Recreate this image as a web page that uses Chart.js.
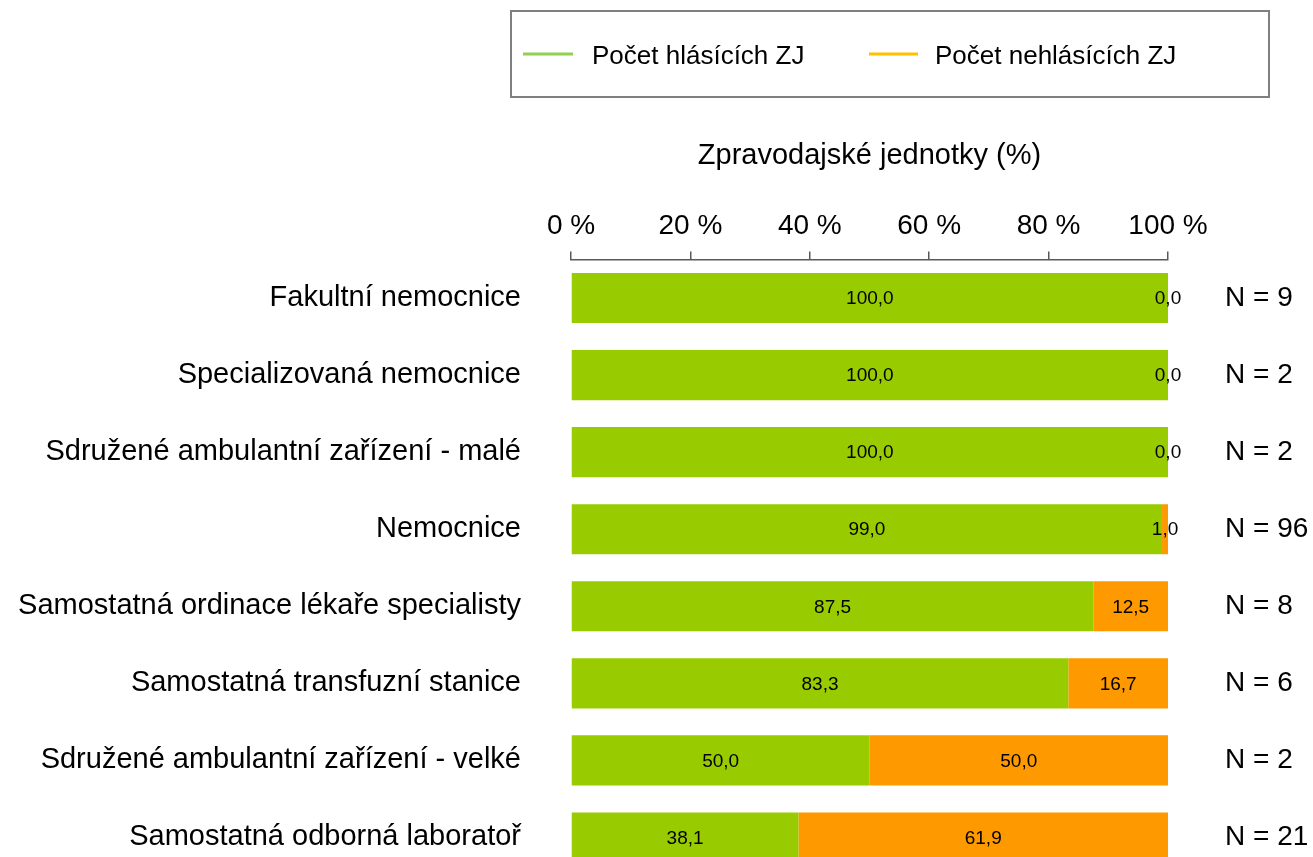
<!DOCTYPE html>
<html>
<head>
<meta charset="utf-8">
<script src="https://cdn.jsdelivr.net/npm/chart.js@4"></script>
<style>
  html, body { margin: 0; padding: 0; background: #fff; overflow: hidden; }
  #wrap { position: relative; width: 1313px; height: 876px; }
</style>
</head>
<body>
<div id="wrap"><canvas id="c"></canvas></div>
<script>
const categories = [
  'Fakultní nemocnice',
  'Specializovaná nemocnice',
  'Sdružené ambulantní zařízení - malé',
  'Nemocnice',
  'Samostatná ordinace lékaře specialisty',
  'Samostatná transfuzní stanice',
  'Sdružené ambulantní zařízení - velké',
  'Samostatná odborná laboratoř'
];
const reporting = [100.0, 100.0, 100.0, 99.0, 87.5, 83.3, 50.0, 38.1];
const nonReporting = [0.0, 0.0, 0.0, 1.0, 12.5, 16.7, 50.0, 61.9];
const nCounts = [9, 2, 2, 96, 8, 6, 2, 21];
const seriesNames = ['Počet hlásících ZJ', 'Počet nehlásících ZJ'];
const barColors = ['#99CC00', '#FF9900'];
const legendLineColors = ['#92D050', '#FFC000'];
const axisTitle = 'Zpravodajské jednotky (%)';
const xTickValues = [0, 20, 40, 60, 80, 100];

const FONT = "'Liberation Sans', Arial, sans-serif";
const nLabels = nCounts.map(n => 'N = ' + n);

function zeroPad(scale) {
  scale.paddingTop = 0;
  scale.paddingBottom = 0;
}

const valueLabels = {
  id: 'valueLabels',
  afterDatasetsDraw(chart) {
    const ctx = chart.ctx;
    ctx.save();
    ctx.font = '19px ' + FONT;
    ctx.fillStyle = '#000';
    ctx.textAlign = 'center';
    ctx.textBaseline = 'middle';
    chart.data.datasets.forEach((ds, di) => {
      const meta = chart.getDatasetMeta(di);
      meta.data.forEach((el, i) => {
        const v = ds.data[i];
        const cx = (el.x + el.base) / 2;
        ctx.fillText(v.toFixed(1).replace('.', ','), cx, el.y + 1);
      });
    });
    ctx.restore();
  }
};

const boxedLegend = {
  id: 'boxedLegend',
  afterDraw(chart) {
    const ctx = chart.ctx;
    ctx.save();
    ctx.strokeStyle = '#7f7f7f';
    ctx.lineWidth = 2;
    ctx.strokeRect(511, 11, 758, 86);
    const items = [
      { x0: 523, x1: 573, tx: 592 },
      { x0: 869, x1: 918, tx: 935 }
    ];
    ctx.font = '26px ' + FONT;
    ctx.textBaseline = 'middle';
    ctx.textAlign = 'left';
    chart.data.datasets.forEach((ds, i) => {
      const it = items[i];
      ctx.strokeStyle = legendLineColors[i];
      ctx.lineWidth = 3;
      ctx.beginPath();
      ctx.moveTo(it.x0, 54);
      ctx.lineTo(it.x1, 54);
      ctx.stroke();
      ctx.fillStyle = '#000';
      ctx.fillText(ds.label, it.tx, 57);
    });
    ctx.restore();
  }
};

new Chart(document.getElementById('c'), {
  type: 'bar',
  data: {
    labels: categories,
    datasets: [
      { label: seriesNames[0], data: reporting, backgroundColor: barColors[0], borderWidth: 0,
        barPercentage: 0.65, categoryPercentage: 1.0 },
      { label: seriesNames[1], data: nonReporting, backgroundColor: barColors[1], borderWidth: 0,
        barPercentage: 0.65, categoryPercentage: 1.0 }
    ]
  },
  options: {
    indexAxis: 'y',
    responsive: true,
    maintainAspectRatio: false,
    animation: false,
    devicePixelRatio: 1,
    layout: { padding: { top: 120, bottom: 0, left: 0, right: 0 } },
    plugins: { legend: { display: false }, tooltip: { enabled: false } },
    scales: {
      x: {
        position: 'top',
        stacked: true,
        min: 0, max: 100,
        afterBuildTicks(scale) { scale.ticks = xTickValues.map(v => ({ value: v })); },
        ticks: {
          callback: v => v + ' %',
          font: { family: FONT, size: 28 },
          color: '#000',
          padding: 8,
          maxRotation: 0,
          autoSkip: false
        },
        grid: { drawOnChartArea: false, drawTicks: true, tickLength: 8, color: '#595959', lineWidth: 1.5 },
        border: { display: true, color: '#595959', width: 1.5 },
        title: {
          display: true,
          text: axisTitle,
          font: { family: FONT, size: 29 },
          color: '#000',
          padding: { top: 18.6, bottom: 0 }
        },
        afterFit(scale) { scale.height = 139.5; scale.paddingLeft = 0; scale.paddingRight = 0; }
      },
      y: {
        stacked: true,
        position: 'left',
        grid: { display: false, drawTicks: false, tickLength: 0 },
        border: { display: false },
        ticks: { font: { family: FONT, size: 29 }, color: '#000', padding: 50, autoSkip: false },
        afterFit(scale) { scale.width = 571; zeroPad(scale); }
      },
      y2: {
        type: 'category',
        position: 'right',
        labels: nLabels,
        offset: true,
        grid: { display: false, drawTicks: false, tickLength: 0 },
        border: { display: false },
        ticks: { font: { family: FONT, size: 28 }, color: '#000', padding: 57, autoSkip: false },
        afterFit(scale) { scale.width = 145; zeroPad(scale); }
      }
    }
  },
  plugins: [valueLabels, boxedLegend]
});
</script>
</body>
</html>
